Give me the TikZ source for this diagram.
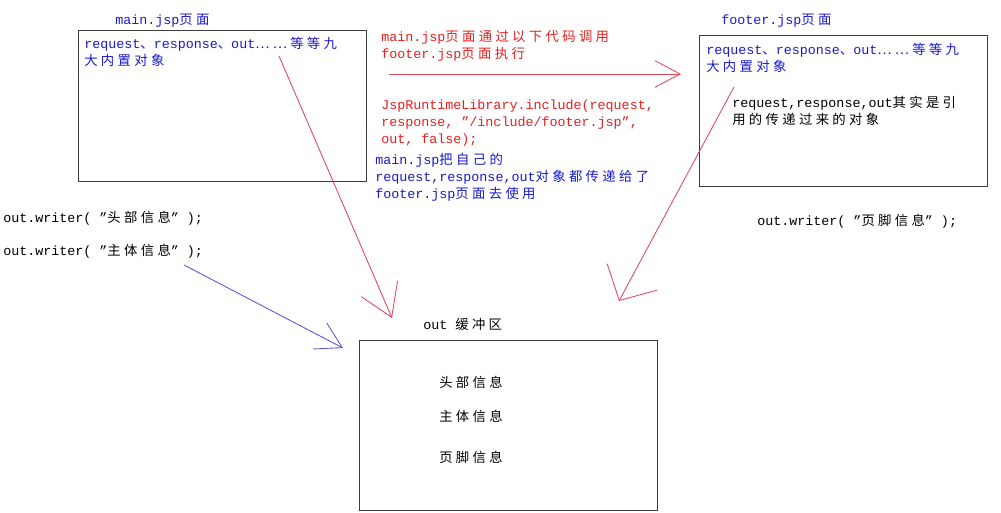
\documentclass[tikz,border=0pt]{standalone}
\usepackage{fontspec}
\setmainfont{Liberation Mono}
\newfontfamily\cjk[LetterSpace=25]{Noto Sans CJK SC}
\newcommand{\zh}[1]{{\cjk #1}}
\usetikzlibrary{arrows.meta}

\definecolor{txtblue}{RGB}{25,25,205}
\definecolor{txtred}{RGB}{232,30,30}
\definecolor{linered}{RGB}{222,70,90}
\definecolor{lineblue}{RGB}{85,85,210}
\definecolor{boxgray}{RGB}{60,60,60}

\tikzset{
	box/.style={draw=boxgray, line width=0.9pt, anchor=north west, inner sep=0pt},
	lbl/.style={anchor=base west, inner sep=0pt, align=left},
	redline/.style={draw=linered, line width=0.6pt},
	blueline/.style={draw=lineblue, line width=0.6pt}
}

\begin{document}
\begin{tikzpicture}[x=0.025cm, y=-0.025cm, font=\fontsize{9.5}{12}\selectfont]

	\useasboundingbox (0,0) rectangle (1001,513);

	% main.jsp (multi-line labels sit on their last baseline)
	\node[lbl, txtblue] (maintitle) at (115,25) {main.jsp\zh{页面}};
	\node[box, minimum width=7.2cm, minimum height=3.775cm] (mainbox) at (78,30) {};
	\node[lbl, txtblue] (maintext) at (84,65) {request\zh{、}response\zh{、}out\zh{……等等九}\\\zh{大内置对象}};

	% footer.jsp
	\node[lbl, txtblue] (footertitle) at (721,25) {footer.jsp\zh{页面}};
	\node[box, minimum width=7.2cm, minimum height=3.775cm] (footerbox) at (699,35) {};
	\node[lbl, txtblue] (footertext) at (706,71) {request\zh{、}response\zh{、}out\zh{……等等九}\\\zh{大内置对象}};
	\node[lbl] (refnote) at (732,124) {request,response,out\zh{其实是引}\\\zh{用的传递过来的对象}};

	% include call
	\node[lbl, txtred] (callnote) at (381,58) {main.jsp\zh{页面通过以下代码调用}\\footer.jsp\zh{页面执行}};
	\node[lbl, txtred] (callcode) at (381,143) {JspRuntimeLibrary.include(request,\\response, "/include/footer.jsp",\\out, false);};
	\node[lbl, txtblue] (passnote) at (375,198) {main.jsp\zh{把自己的}\\request,response,out\zh{对象都传递给了}\\footer.jsp\zh{页面去使用}};

	% writers
	\node[lbl] (headwrite) at (3,222) {out.writer( "\zh{头部信息}" );};
	\node[lbl] (bodywrite) at (3,255) {out.writer( "\zh{主体信息}" );};
	\node[lbl] (footwrite) at (757,225) {out.writer( "\zh{页脚信息}" );};

	% out buffer
	\node[lbl] (buffertitle) at (423,329) {out \zh{缓冲区}};
	\node[box, minimum width=7.45cm, minimum height=4.25cm] (bufferbox) at (359,340) {};
	\node[lbl] (head) at (439,387) {\zh{头部信息}};
	\node[lbl] (body) at (439,421) {\zh{主体信息}};
	\node[lbl] (foot) at (439,462) {\zh{页脚信息}};

	% arrows
	\coordinate (callfrom) at (389,74);
	\coordinate (callto) at (681,74);
	\coordinate (mainfrom) at (279,56);
	\coordinate (mainto) at (392,318);
	\coordinate (footerfrom) at (734,87);
	\coordinate (footerto) at (619,301);
	\coordinate (bodyfrom) at (184,265);
	\coordinate (bodyto) at (343,348);

	\draw[redline, -{Straight Barb[length=18pt, width=19pt]}] (callfrom) -- (callto);
	\draw[redline, -{Straight Barb[length=22pt, width=28pt]}] (mainfrom) -- (mainto);
	\draw[redline, -{Straight Barb[length=19pt, width=40pt]}] (footerfrom) -- (footerto);
	\draw[blueline, -{Straight Barb[length=18pt, width=21pt]}] (bodyfrom) -- (bodyto);

\end{tikzpicture}
\end{document}
